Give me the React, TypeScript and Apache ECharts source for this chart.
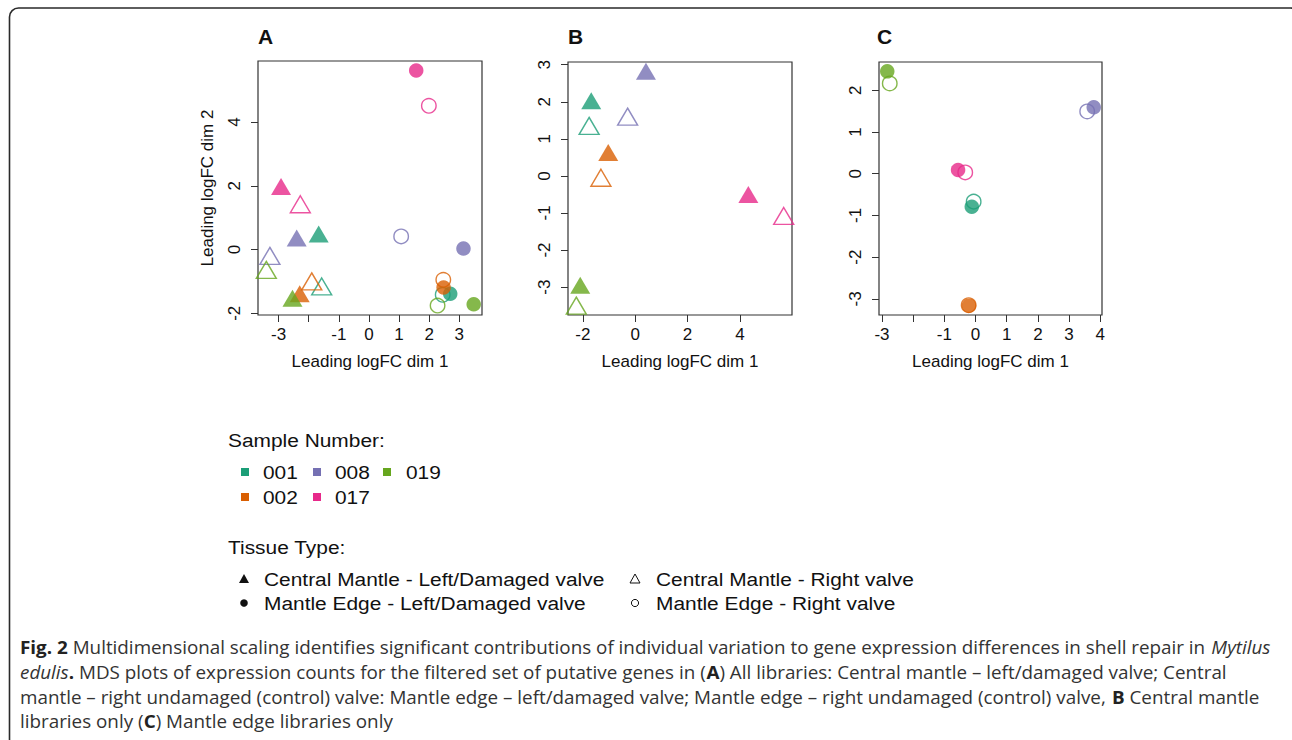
import React, { useEffect, useRef } from 'react';
import * as echarts from 'echarts';

// ---------- data ----------
const sampleNames = ['001', '002', '008', '017', '019'];
const sampleColors = ['#1B9E77', '#D95F02', '#7570B3', '#E7298A', '#66A61E'];
const tissueTypes = [
  'Central Mantle - Left/Damaged valve',
  'Central Mantle - Right valve',
  'Mantle Edge - Left/Damaged valve',
  'Mantle Edge - Right valve',
];

// Panel A (all libraries); each row = one sample, in sampleNames order: [dim1, dim2]
const aCentralLeft = [[-1.67, 0.49], [-2.30, -1.39], [-2.40, 0.36], [-2.92, 1.98], [-2.54, -1.53]];
const aCentralRight = [[-1.57, -1.16], [-1.90, -1.00], [-3.29, -0.20], [-2.28, 1.42], [-3.41, -0.64]];
const aEdgeLeft = [[2.70, -1.39], [2.48, -1.19], [3.14, 0.03], [1.57, 5.62], [3.48, -1.72]];
const aEdgeRight = [[2.45, -1.42], [2.47, -0.95], [1.07, 0.41], [1.99, 4.51], [2.28, -1.76]];

// Panel B (central mantle only)
const bCentralLeft = [[-1.68, 2.03], [-1.03, 0.63], [0.41, 2.82], [4.32, -0.50], [-2.10, -2.95]];
const bCentralRight = [[-1.76, 1.35], [-1.31, -0.05], [-0.29, 1.60], [5.67, -1.08], [-2.25, -3.50]];

// Panel C (mantle edge only)
const cEdgeLeft = [[-0.12, -0.79], [-0.21, -3.16], [3.79, 1.59], [-0.56, 0.09], [-2.83, 2.45]];
const cEdgeRight = [[-0.06, -0.67], [-0.22, -3.15], [3.58, 1.49], [-0.33, 0.03], [-2.75, 2.16]];

// tick positions and tick labels
const aXTicks = [-3, -2, -1, 0, 1, 2, 3];
const aXLabels = [-3, -1, 0, 1, 2, 3];
const aYTicks = [-2, 0, 2, 4];
const bXTicks = [-2, 0, 2, 4, 6];
const bYTicks = [-3, -2, -1, 0, 1, 2, 3];
const cXTicks = [-3, -2, -1, 0, 1, 2, 3, 4];
const cXLabels = [-3, -1, 0, 1, 2, 3, 4];
const cYTicks = [-3, -2, -1, 0, 1, 2];

const panelLetters = ['A', 'B', 'C'];
const xAxisTitle = 'Leading logFC dim 1';
const yAxisTitle = 'Leading logFC dim 2';
const legendTitle1 = 'Sample Number:';
const legendTitle2 = 'Tissue Type:';

type Seg = [string, 'n' | 'b' | 'i'];
const captionLines: Seg[][] = [
  [['Fig. 2', 'b'], [' Multidimensional scaling identifies significant contributions of individual variation to gene expression differences in shell repair in ', 'n'], ['Mytilus', 'i']],
  [['edulis', 'i'], ['.', 'b'], [' MDS plots of expression counts for the filtered set of putative genes in (', 'n'], ['A', 'b'], [') All libraries: Central mantle \u2013 left/damaged valve; Central', 'n']],
  [['mantle \u2013 right undamaged (control) valve: Mantle edge \u2013 left/damaged valve; Mantle edge \u2013 right undamaged (control) valve, ', 'n'], ['B', 'b'], [' Central mantle', 'n']],
  [['libraries only (', 'n'], ['C', 'b'], [') Mantle edge libraries only', 'n']],
];

// ---------- styling / layout ----------
const AX_FONT = '"Liberation Sans", Arial, Helvetica, sans-serif';
const CAP_FONT = '"Open Sans", "Noto Sans", sans-serif';
const CAP_SIZE = 18;
const TEXT_COLOR = '#111';

function rRange(values: number[]) {
  const lo = Math.min(...values);
  const hi = Math.max(...values);
  const ext = (hi - lo) * 0.04;
  return [lo - ext, hi + ext];
}

const grids = [
  { left: 258, top: 61, width: 224, height: 254 },
  { left: 568, top: 62, width: 224, height: 253 },
  { left: 879, top: 62, width: 223, height: 253 },
];

function xAxisFor(idx: number, pts: number[][], ticks: number[], labels: number[]) {
  const [min, max] = rRange(pts.map((p) => p[0]));
  return {
    type: 'value', gridIndex: idx, min, max,
    axisLine: { show: false, onZero: false },
    splitLine: { show: false },
    axisTick: { show: true, inside: false, length: 7, customValues: ticks, lineStyle: { color: '#333', width: 1 } },
    axisLabel: { customValues: labels, margin: 11, fontSize: 17, fontFamily: AX_FONT, color: TEXT_COLOR, formatter: (v: number) => String(v) },
    name: xAxisTitle, nameLocation: 'middle', nameGap: 38,
    nameTextStyle: { fontSize: 17, fontFamily: AX_FONT, color: TEXT_COLOR },
  };
}

function yAxisFor(idx: number, pts: number[][], ticks: number[], withName: boolean) {
  const [min, max] = rRange(pts.map((p) => p[1]));
  return {
    type: 'value', gridIndex: idx, min, max,
    axisLine: { show: false, onZero: false },
    splitLine: { show: false },
    axisTick: { show: true, inside: false, length: 7, customValues: ticks, lineStyle: { color: '#333', width: 1 } },
    axisLabel: { customValues: ticks, margin: 15, rotate: 90, fontSize: 17, fontFamily: AX_FONT, color: TEXT_COLOR, formatter: (v: number) => String(v) },
    name: withName ? yAxisTitle : '', nameLocation: 'middle', nameGap: 42,
    nameTextStyle: { fontSize: 17, fontFamily: AX_FONT, color: TEXT_COLOR },
  };
}

function makeSeries(idx: number, tissue: number, pts: number[][]) {
  const triangle = tissue < 2;
  const filled = tissue % 2 === 0;
  return {
    type: 'scatter', name: tissueTypes[tissue], xAxisIndex: idx, yAxisIndex: idx,
    symbol: triangle ? 'triangle' : 'circle',
    symbolSize: triangle ? [20, 17] : 14.5,
    silent: true, clip: false,
    emphasis: { disabled: true },
    data: pts.map((p, i) => ({
      name: sampleNames[i],
      value: p,
      itemStyle: filled
        ? { color: sampleColors[i] }
        : { color: 'rgba(0,0,0,0)', borderColor: sampleColors[i], borderWidth: 1.4 },
    })),
  };
}

function measureSegs(segs: Seg[]) {
  const ctx = document.createElement('canvas').getContext('2d');
  if (!ctx) return 1;
  let w = 0;
  for (const [t, k] of segs) {
    const style = k === 'i' ? 'italic ' : '';
    const weight = k === 'b' ? 'bold ' : '';
    ctx.font = `${style}${weight}${CAP_SIZE}px "Open Sans"`;
    w += ctx.measureText(t).width;
  }
  return w;
}

function buildGraphics() {
  const g: any[] = [];
  // outer rounded frame
  g.push({ type: 'rect', shape: { x: 9.5, y: 8, width: 1290, height: 740, r: 9 }, style: { fill: 'none', stroke: '#2a2a2a', lineWidth: 1.6 }, silent: true });

  // panel letters
  const letterX = [258, 568, 877];
  panelLetters.forEach((l, i) => {
    g.push({ type: 'text', x: letterX[i], y: 36, style: { text: l, font: `bold 21px ${AX_FONT}`, fill: TEXT_COLOR, align: 'left', verticalAlign: 'middle' } });
  });

  const legendScale = 1.1;
  const legendFont = `19px ${AX_FONT}`;
  // sample legend (filled column by column, two rows)
  g.push({ type: 'text', x: 228, y: 440, scaleX: legendScale, style: { text: legendTitle1, font: legendFont, fill: TEXT_COLOR, verticalAlign: 'middle' } });
  const sX = [245, 317, 387];
  const sTextX = [263, 335, 406];
  const sY = [472, 497];
  sampleNames.forEach((s, i) => {
    const col = Math.floor(i / 2);
    const row = i % 2;
    const cx = sX[col];
    const cy = sY[row];
    g.push({ type: 'rect', shape: { x: cx - 4, y: cy - 4, width: 8, height: 8 }, style: { fill: sampleColors[i] } });
    g.push({ type: 'text', x: sTextX[col], y: cy, scaleX: legendScale, style: { text: s, font: legendFont, fill: TEXT_COLOR, verticalAlign: 'middle' } });
  });

  // tissue legend
  g.push({ type: 'text', x: 228, y: 547, scaleX: legendScale, style: { text: legendTitle2, font: legendFont, fill: TEXT_COLOR, verticalAlign: 'middle' } });
  const tX = [244, 635];
  const tTextX = [264, 656];
  const tY = [579, 603];
  tissueTypes.forEach((t, i) => {
    const col = i % 2;
    const row = i < 2 ? 0 : 1;
    const cx = tX[col];
    const cy = tY[row];
    if (i < 2) {
      const pts = [[cx, cy - 5], [cx + 5, cy + 4], [cx - 5, cy + 4]];
      g.push({ type: 'polygon', shape: { points: pts }, style: i === 0 ? { fill: '#111' } : { fill: 'none', stroke: '#111', lineWidth: 1 } });
    } else {
      g.push({ type: 'circle', shape: { cx, cy, r: i === 2 ? 3.8 : 3.6 }, style: i === 2 ? { fill: '#111' } : { fill: 'none', stroke: '#111', lineWidth: 1 } });
    }
    g.push({ type: 'text', x: tTextX[col], y: cy, scaleX: legendScale, style: { text: t, font: legendFont, fill: TEXT_COLOR, verticalAlign: 'middle' } });
  });

  // caption
  const capScale = 1250 / measureSegs(captionLines[0]);
  const rich = {
    n: { fontFamily: CAP_FONT, fontSize: CAP_SIZE, fill: '#333', color: '#333' },
    b: { fontFamily: CAP_FONT, fontSize: CAP_SIZE, fontWeight: 'bold', fill: '#222', color: '#222' },
    i: { fontFamily: CAP_FONT, fontSize: CAP_SIZE, fontStyle: 'italic', fill: '#333', color: '#333' },
  };
  const capY = [647, 672, 697, 721];
  captionLines.forEach((segs, li) => {
    const text = segs.map(([t, k]) => `{${k}|${t}}`).join('');
    g.push({ type: 'text', x: 20, y: capY[li], scaleX: capScale, style: { text, rich, fontFamily: CAP_FONT, fontSize: CAP_SIZE, fill: '#333', verticalAlign: 'middle', align: 'left' } });
  });
  return g;
}

export default function App() {
  const ref = useRef<HTMLDivElement>(null);
  useEffect(() => {
    if (!ref.current) return;
    const chart = echarts.init(ref.current, undefined, { renderer: 'svg' });
    const aAll = [...aCentralLeft, ...aCentralRight, ...aEdgeLeft, ...aEdgeRight];
    const bAll = [...bCentralLeft, ...bCentralRight];
    const cAll = [...cEdgeLeft, ...cEdgeRight];
    const option = {
      animation: false,
      backgroundColor: '#fff',
      grid: grids.map((g) => ({ ...g, show: true, borderColor: '#333', borderWidth: 1.2, backgroundColor: 'transparent', containLabel: false })),
      xAxis: [
        xAxisFor(0, aAll, aXTicks, aXLabels),
        xAxisFor(1, bAll, bXTicks, bXTicks),
        xAxisFor(2, cAll, cXTicks, cXLabels),
      ],
      yAxis: [
        yAxisFor(0, aAll, aYTicks, true),
        yAxisFor(1, bAll, bYTicks, false),
        yAxisFor(2, cAll, cYTicks, false),
      ],
      series: [
        makeSeries(0, 1, aCentralRight),
        makeSeries(0, 0, aCentralLeft),
        makeSeries(0, 3, aEdgeRight),
        makeSeries(0, 2, aEdgeLeft),
        makeSeries(1, 1, bCentralRight),
        makeSeries(1, 0, bCentralLeft),
        makeSeries(2, 3, cEdgeRight),
        makeSeries(2, 2, cEdgeLeft),
      ],
      graphic: buildGraphics(),
    };
    chart.setOption(option as any);
    return () => chart.dispose();
  }, []);
  return <div ref={ref} style={{ position: 'absolute', left: 0, top: 0, width: 1292, height: 740 }} />;
}
